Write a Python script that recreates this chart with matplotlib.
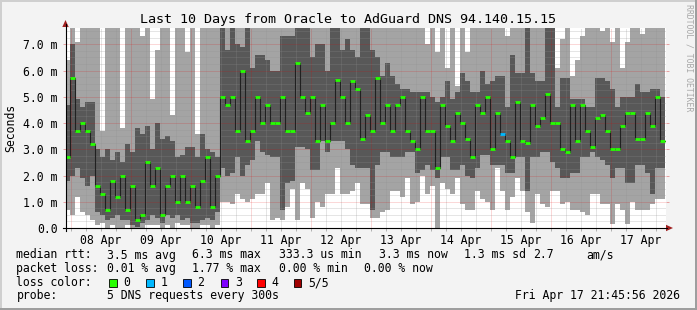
import numpy as np
import pandas as pd
import matplotlib
matplotlib.use("Agg")
import matplotlib.pyplot as plt
import matplotlib.dates as mdates
from matplotlib.patches import Rectangle, Polygon
from matplotlib.lines import Line2D

# ---------------- data (2-hour bins, values in ms) ----------------
start_time = "2026-04-07 21:45"
n_bins = 120

median_ms = [2.7, 5.7, 3.7, 4.0, 3.7, 3.2, 1.6, 1.3, 0.7, 1.8, 1.2, 2.0, 0.7, 1.6, 0.3, 0.5, 2.5, 1.6,
             2.3, 0.5, 1.6, 2.0, 1.0, 2.0, 1.0, 1.6, 0.8, 1.8, 2.7, 0.8, 2.0, 5.0, 4.7, 5.0,
             3.7, 6.0, 3.3, 3.7, 5.0, 4.0, 4.7, 4.0, 4.0, 5.0, 3.7, 3.7, 6.3, 5.0, 4.4, 5.0, 3.3, 4.7,
             3.3, 4.0, 5.65, 5.0, 4.0, 5.6, 5.3, 3.4, 4.3, 3.7, 5.7, 4.0, 4.7, 3.7, 4.7, 5.0, 3.7, 3.3,
             3.0, 5.0, 3.7, 3.7, 2.3, 4.7, 3.9, 3.3, 4.4, 4.0, 3.4, 2.7, 4.7, 4.4, 5.0, 3.0, 4.4, 3.6,
             3.3, 2.7, 4.8, 3.3, 3.25, 4.7, 3.9, 4.2, 5.1, 4.0, 4.0, 3.0, 2.9, 4.7, 3.3, 4.7, 3.7,
             3.1, 4.2, 4.3, 3.7, 3.0, 3.0, 3.9, 4.4, 4.4, 3.4, 3.4, 4.4, 3.9, 5.0, 3.3]

loss_count = [0] * 87 + [1] + [0] * 32

light_hi = [6.4, 9, 7.1, 9, 9, 9, 9, 3.7, 9, 9, 9, 3.8, 9, 9, 9, 7.3, 9, 4.9,
            6.8, 9, 9, 4.3, 9, 9, 6.7, 9, 3.6, 9, 9, 9, 9, 9, 9, 9,
            9, 9, 9, 9, 9, 9, 9, 9, 9, 9, 9, 9, 9, 9, 9, 9, 9, 9,
            9, 9, 9, 9, 9, 9, 9, 9, 9, 9, 9, 9, 9, 9, 9, 9, 9, 9,
            9, 9, 7.0, 9, 6.7, 9, 6.1, 9, 5.4, 9, 6.7, 9, 9, 9, 9, 9, 9, 9,
            7.3, 9, 9, 9, 9, 9, 9, 9, 9, 9, 6.1, 7.2, 9, 5.8, 6.4, 7.3, 9,
            9, 9, 7.5, 9, 7.1, 9, 6.1, 7.1, 9, 9, 7.4, 9, 9, 9, 9]

dark_hi = [4.7, 7.0, 4.9, 4.6, 4.8, 4.8, 3.0, 2.7, 3.0, 2.6, 2.9, 2.5, 3.2, 2.9, 3.8, 3.6, 3.9, 3.0,
           4.0, 3.4, 3.5, 3.3, 2.7, 2.8, 3.1, 3.1, 2.7, 3.6, 3.0, 2.9, 2.7, 9, 6.8, 9,
           7.0, 6.9, 9, 6.1, 6.6, 6.6, 6.4, 6.0, 6.0, 7.3, 7.3, 7.3, 9, 9, 9, 6.5, 7.0, 7.0,
           6.0, 9, 9, 6.8, 7.2, 6.8, 6.5, 9, 9, 6.8, 6.5, 5.8, 6.3, 5.8, 5.5, 5.3, 5.3, 5.2,
           5.2, 5.2, 5.2, 5.0, 4.8, 5.0, 5.6, 4.9, 5.2, 5.9, 5.6, 5.2, 5.2, 6.0, 5.5, 5.6, 5.8, 5.8,
           4.6, 6.6, 5.9, 5.9, 9, 5.9, 5.6, 5.6, 9, 9, 4.6, 5.7, 5.7, 4.9, 4.9, 4.9, 4.6,
           4.6, 5.7, 5.7, 5.6, 5.3, 4.6, 5.0, 5.0, 5.0, 5.5, 5.2, 5.2, 5.3, 5.3, 5.0]

dark_lo = [1.8, 2.0, 2.3, 1.9, 1.6, 2.0, 0.6, 0.5, 0.3, 0.4, 0.5, 0.3, 0.3, 0.1, 0.05, 0.2, 0.3, 0.5,
           0.4, 0.2, 0.5, 0.4, 0.5, 0.3, 0.4, 0.2, 0.2, 0.3, 0.4, 0.3, 0.6, 2.3, 2.0, 2.1,
           2.7, 2.0, 2.4, 2.6, 3.3, 2.9, 2.8, 2.7, 2.7, 0.7, 1.7, 1.8, 3.1, 3.1, 3.0, 2.2, 2.2, 3.3,
           2.9, 3.3, 3.3, 3.3, 3.0, 2.4, 2.3, 2.3, 2.3, 0.7, 2.4, 2.9, 2.9, 2.7, 2.7, 2.7, 2.9, 2.9,
           2.1, 2.2, 2.4, 2.2, 1.9, 2.7, 2.7, 2.2, 2.2, 2.4, 2.0, 1.9, 2.3, 2.8, 2.8, 2.4, 2.4, 2.4,
           2.1, 2.1, 2.7, 2.7, 1.4, 2.7, 2.7, 2.9, 2.9, 2.5, 2.3, 1.9, 1.9, 2.1, 2.1, 2.7, 2.7,
           2.9, 2.7, 2.6, 2.4, 1.9, 2.3, 2.3, 1.7, 1.7, 2.4, 2.4, 2.1, 1.3, 2.3, 2.3]

light_lo = [0.7, 0.5, 1.2, 0.6, 0.5, 0.3, 0.1, 0.2, 0.0, 0.1, 0.0, 0.0, 0.1, 0.0, 0.0, 0.0, 0.1, 0.1,
            0.1, 0.0, 0.1, 0.0, 0.2, 0.1, 0.1, 0.0, 0.0, 0.1, 0.1, 0.0, 0.1, 1.0, 1.0, 0.9,
            1.3, 1.1, 1.0, 1.1, 1.3, 1.3, 1.7, 0.3, 0.4, 0.3, 0.8, 1.5, 0.3, 1.7, 1.5, 0.4, 1.0, 0.8,
            1.3, 1.3, 2.3, 1.3, 1.3, 1.4, 1.7, 0.9, 0.9, 0.4, 0.4, 0.6, 0.7, 1.4, 1.4, 1.2, 1.9, 0.9,
            1.0, 2.0, 1.3, 1.6, 0.0, 1.7, 1.5, 1.3, 1.9, 0.9, 0.7, 0.7, 1.4, 1.1, 1.0, 0.7, 2.3, 1.4,
            0.7, 1.2, 1.9, 1.4, 0.6, 0.2, 1.3, 0.9, 0.8, 1.4, 1.4, 0.9, 1.0, 0.7, 0.7, 0.6, 0.5,
            1.3, 1.3, 0.9, 0.9, 0.15, 0.9, 0.7, 0.15, 1.0, 0.7, 0.7, 0.7, 0.9, 1.1, 1.1]

day_labels = ["08 Apr", "09 Apr", "10 Apr", "11 Apr", "12 Apr",
              "13 Apr", "14 Apr", "15 Apr", "16 Apr", "17 Apr"]
y_ticks = [0, 1, 2, 3, 4, 5, 6, 7]

loss_colors = ["#26ff00", "#00b8ff", "#0059ff", "#7e00ff", "#ff0000", "#a00000"]
loss_names = ["0", "1", "2", "3", "4", "5/5"]

title = "Last 10 Days from Oracle to AdGuard DNS 94.140.15.15"
stats_rtt = ["median rtt:", "3.5 ms avg", "6.3 ms max", "333.3 us min", "3.3 ms now", "1.3 ms sd", "2.7", "am/s"]
stats_loss = ["packet loss:", "0.01 % avg", "1.77 % max", "0.00 % min", "0.00 % now"]
probe_text = ["probe:", "5 DNS requests every 300s"]
stamp = "Fri Apr 17 21:45:56 2026"

# ---------------- figure ----------------
W, H = 697, 310
fig = plt.figure(figsize=(W / 100, H / 100), dpi=100)
fig.patch.set_facecolor("#f3f3f3")
MONO = "DejaVu Sans Mono"
FS = 8.3


def fx(x):
    return x / W


def fy(y):
    return 1 - y / H


Lp, Rp, Tp, Bp = 65.5, 665.5, 28, 228
ymax = 200 / 26.24
ax = fig.add_axes([fx(Lp), fy(Bp), (Rp - Lp) / W, (Bp - Tp) / H])
ax.set_facecolor("white")
for s in ax.spines.values():
    s.set_visible(False)

times = pd.date_range(start_time, periods=n_bins + 1, freq="2h")
t = mdates.date2num(times.to_pydatetime())


def ext(a):
    a = np.asarray(a, dtype=float)
    return np.append(a, a[-1])


ax.fill_between(t, ext(light_lo), ext(light_hi), step="post", color="#a4a4a4", lw=0, zorder=1)
ax.fill_between(t, ext(dark_lo), ext(dark_hi), step="post", color="#585858", lw=0, zorder=2)

# grid
days = mdates.date2num(pd.date_range("2026-04-08", "2026-04-17", freq="D").to_pydatetime())
six = mdates.date2num(pd.date_range("2026-04-07 18:00", "2026-04-17 18:00", freq="6h").to_pydatetime())
for d in six:
    if d in days:
        continue
    ax.axvline(d, color="#8f8f8f", alpha=0.45, lw=0.72, ls=(0, (1, 1)), zorder=3)
for d in days:
    ax.axvline(d, color="#e50000", alpha=0.3, lw=0.72, ls=(0, (1, 1)), zorder=3)
for v in np.arange(0.25, ymax, 0.25):
    if abs(v - round(v)) < 1e-6:
        ax.axhline(v, color="#e50000", alpha=0.3, lw=0.72, ls=(0, (1, 1)), zorder=3)
    else:
        ax.axhline(v, color="#8f8f8f", alpha=0.45, lw=0.72, ls=(0, (1, 1)), zorder=3)

# median line + loss coloured marks
ax.step(t, ext(median_ms), where="post", color="#202020", lw=0.8, zorder=4)
ax.hlines(median_ms, t[:-1], t[1:], colors=[loss_colors[c] for c in loss_count],
          lw=2.0, zorder=5, capstyle="butt")

ax.set_xlim(t[0], t[-1])
ax.set_ylim(0, ymax)

noons = mdates.date2num(pd.date_range("2026-04-08 12:00", periods=10, freq="D").to_pydatetime())
ax.set_xticks(noons)
ax.set_xticklabels(day_labels, fontsize=FS, family=MONO)
ax.set_xticks([d for d in six if d not in noons and t[0] <= d <= t[-1]], minor=True)
ax.tick_params(axis="x", which="both", length=2, width=0.7, color="#b0b0b0", pad=2.5)
ax.set_yticks(y_ticks)
ax.set_yticklabels(["0.0" if v == 0 else f"{v:.1f} m" for v in y_ticks], fontsize=FS, family=MONO)
ax.tick_params(axis="y", which="major", length=2, width=0.7, color="#e8a0a0", pad=3.5, right=True)


def px_line(x0, y0, x1, y1, **kw):
    fig.add_artist(Line2D([fx(x0), fx(x1)], [fy(y0), fy(y1)], transform=fig.transFigure, **kw))


px_line(Lp, Bp + 3, Lp, 24, color="black", lw=0.8)
px_line(Lp - 3, Bp, 667, Bp, color="black", lw=0.8)
fig.add_artist(Polygon([(fx(Lp), fy(20)), (fx(Lp - 3.2), fy(27)), (fx(Lp + 3.2), fy(27))],
                       closed=True, transform=fig.transFigure, color="#a02020", lw=0))
fig.add_artist(Polygon([(fx(673), fy(Bp)), (fx(666), fy(Bp - 3.2)), (fx(666), fy(Bp + 3.2))],
                       closed=True, transform=fig.transFigure, color="#a02020", lw=0))

# texts
fig.text(fx(348), fy(19), title, ha="center", va="center", fontsize=9.6, family=MONO)
fig.text(fx(11), fy(128), "Seconds", rotation=90, ha="center", va="center", fontsize=FS, family=MONO)
fig.text(fx(688.5), fy(4), "RRDTOOL / TOBI OETIKER", rotation=270, ha="center", va="top",
         fontsize=5.9, family=MONO, color="#a8a8a8")

rtt_x = [16.4, 106.7, 192, 279, 378.7, 464.4, 533, 585.8]
for s, x in zip(stats_rtt, rtt_x):
    fig.text(fx(x), fy(255), s, ha="left", va="center", fontsize=FS, family=MONO)
loss_x = [16.4, 106.7, 192, 279, 364.4]
for s, x in zip(stats_loss, loss_x):
    fig.text(fx(x), fy(268.5), s, ha="left", va="center", fontsize=FS, family=MONO)
fig.text(fx(16.4), fy(282.5), "loss color:", ha="left", va="center", fontsize=FS, family=MONO)
sq_x = [109, 146, 183, 220.5, 257, 293.5]
for c, name, x in zip(loss_colors, loss_names, sq_x):
    fig.add_artist(Rectangle((fx(x), fy(286.5)), 7.5 / W, 7.5 / H, transform=fig.transFigure,
                             facecolor=c, edgecolor="black", lw=0.6))
    fig.text(fx(x + 14.5), fy(282.5), name, ha="left", va="center", fontsize=FS, family=MONO)
fig.text(fx(16.4), fy(296), probe_text[0], ha="left", va="center", fontsize=FS, family=MONO)
fig.text(fx(106.7), fy(296), probe_text[1], ha="left", va="center", fontsize=FS, family=MONO)
fig.text(fx(680), fy(296), stamp, ha="right", va="center", fontsize=FS, family=MONO)

# 3D frame
fig.add_artist(Rectangle((0, fy(2)), 1, 2 / H, transform=fig.transFigure, color="#cfcfcf", lw=0))
fig.add_artist(Rectangle((0, 0), 2 / W, 1, transform=fig.transFigure, color="#cfcfcf", lw=0))
fig.add_artist(Rectangle((0, 0), 1, 2 / H, transform=fig.transFigure, color="#9e9e9e", lw=0))
fig.add_artist(Rectangle((fx(695), 0), 2 / W, 1, transform=fig.transFigure, color="#9e9e9e", lw=0))

fig.savefig("out.png", dpi=100, facecolor=fig.get_facecolor())
